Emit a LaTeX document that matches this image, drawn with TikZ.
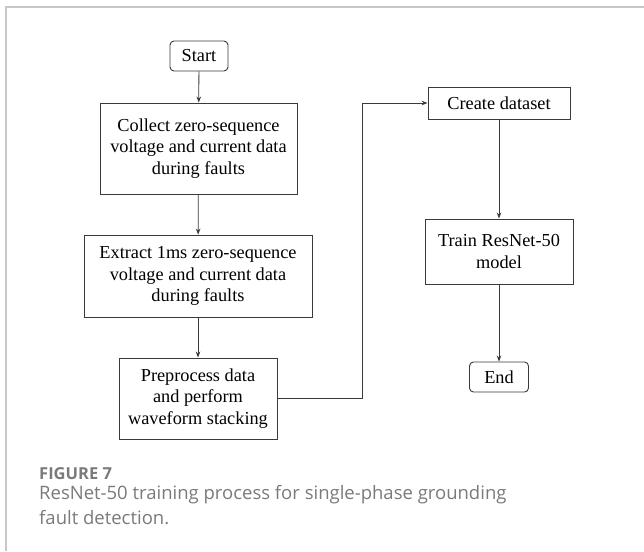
\documentclass[tikz,border=0pt]{standalone}
\usepackage{fontspec}
\setmainfont{Liberation Serif}
\newfontfamily\capfont{Open Sans}
\usetikzlibrary{arrows.meta,positioning}
\definecolor{frame}{HTML}{C8C8C8}
\definecolor{ink}{HTML}{3A3A3A}
\definecolor{capgray}{HTML}{7A7A7A}
\tikzset{
  box/.style={draw=ink, line width=0.9pt, align=center, inner sep=0pt,
    font=\fontsize{18.3}{21.7}\selectfont, text=black},
  term/.style={box, rounded corners=4pt},
  conn/.style={draw=ink, line width=0.8pt, -{Stealth[length=6pt,width=4.5pt]}},
}
\begin{document}
\begin{tikzpicture}[x=1pt,y=-1pt]
\useasboundingbox (0,0) rectangle (644,551);
\draw[frame, line width=1.2pt] (644,7) -- (6,7) -- (6,551);

\node[term, minimum width=58pt, minimum height=30pt] (start) at (199,56) {Start};
\node[box, minimum width=197pt, minimum height=91pt] (collect) at (198.5,148.5)
  {Collect zero-sequence\\voltage and current data\\during faults};
\node[box, minimum width=228pt, minimum height=82pt] (extract) at (198,276)
  {Extract 1ms zero-sequence\\voltage and current data\\during faults};
\node[box, minimum width=158pt, minimum height=81pt] (prep) at (198,398.5)
  {Preprocess data\\and perform\\waveform stacking};
\node[box, minimum width=142pt, minimum height=32pt] (create) at (499,103) {Create dataset};
\node[box, minimum width=148pt, minimum height=65pt] (train) at (499,251.5)
  {Train ResNet-50\\model};
\node[term, minimum width=59pt, minimum height=30pt] (end) at (499,377) {End};

\coordinate (bend1) at (362,398.5);
\coordinate (bend2) at (362,103);

\draw[conn] (start) -- (collect);
\draw[conn] (collect) -- (extract);
\draw[conn] (extract) -- (prep);
\draw[conn] (prep.east) -- (bend1) -- (bend2) -- (create.west);
\draw[conn] (create) -- (train);
\draw[conn] (train) -- (end);

\node[anchor=base west, inner sep=0pt, text=capgray, font=\capfont\fontsize{16.5}{18}\selectfont\bfseries] (fig) at (39,479) {FIGURE 7};
\node[anchor=base west, inner sep=0pt, text=capgray, align=left,
  font=\capfont\fontsize{18.5}{25}\selectfont] (cap) at (39,524)
  {ResNet-50 training process for single-phase grounding\\fault detection.};
\end{tikzpicture}
\end{document}
